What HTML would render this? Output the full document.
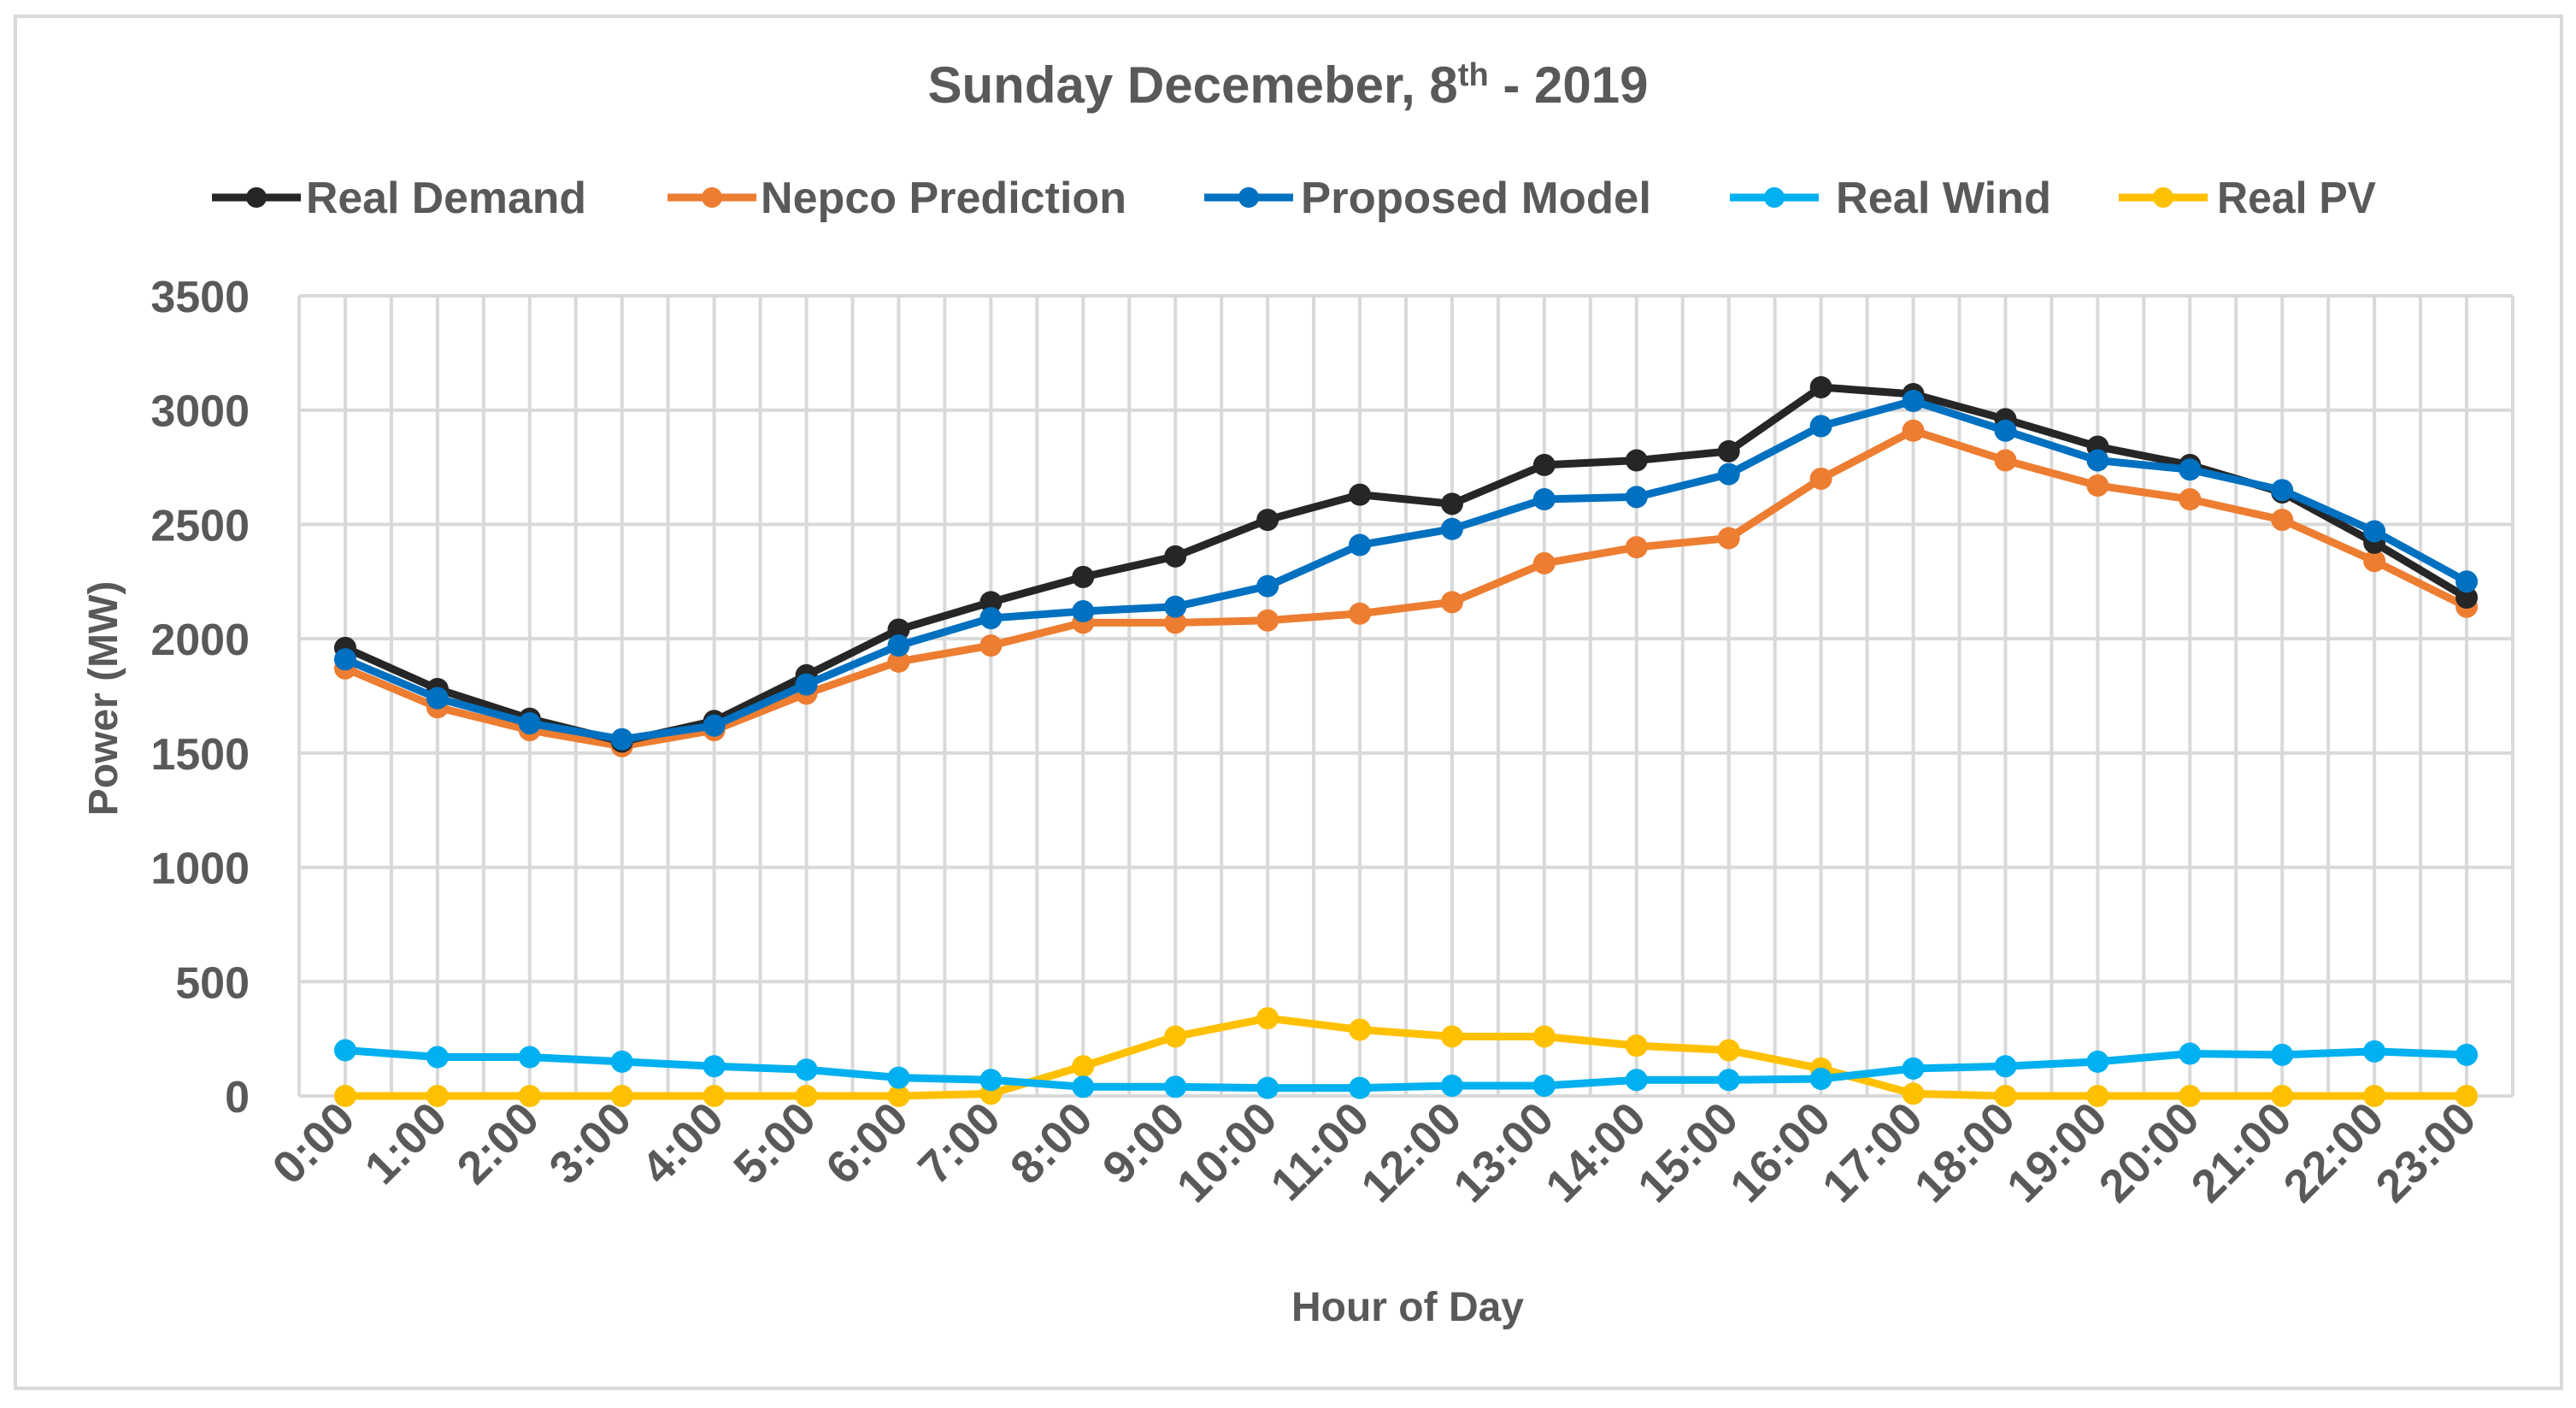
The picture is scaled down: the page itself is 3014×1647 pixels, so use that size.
<!DOCTYPE html>
<html><head><meta charset="utf-8"><style>
html,body{margin:0;padding:0;background:#fff;}
svg{display:block;}
text{font-family:"Liberation Sans",sans-serif;fill:#595959;font-weight:bold;}
</style></head><body>
<svg id="chart" width="3014" height="1647" viewBox="0 0 3014 1647" xmlns="http://www.w3.org/2000/svg">
<rect x="18" y="19" width="2979" height="1605" fill="#fff" stroke="#d9d9d9" stroke-width="4"/>
<text x="1507" y="120" text-anchor="middle" font-size="60">Sunday Decemeber, 8<tspan font-size="38" dy="-20">th</tspan><tspan dy="20"> - 2019</tspan></text>
<g id="grid"></g>
<g id="yticks"></g>
<g id="xticks"></g>
<g id="series"></g>
<g id="legend"></g>
<text x="0" y="0" transform="translate(137,817) rotate(-90)" text-anchor="middle" font-size="48">Power (MW)</text>
<text x="1647" y="1545" text-anchor="middle" font-size="48">Hour of Day</text>
</svg>
<script>
const categories = ["0:00","1:00","2:00","3:00","4:00","5:00","6:00","7:00","8:00","9:00","10:00","11:00","12:00","13:00","14:00","15:00","16:00","17:00","18:00","19:00","20:00","21:00","22:00","23:00"];
const realDemand = [1960,1780,1650,1550,1640,1840,2040,2160,2270,2360,2520,2630,2590,2760,2780,2820,3100,3070,2960,2840,2760,2640,2420,2180];
const nepcoPrediction = [1870,1700,1600,1530,1600,1760,1900,1970,2070,2070,2080,2110,2160,2330,2400,2440,2700,2910,2780,2670,2610,2520,2340,2140];
const proposedModel = [1910,1740,1630,1560,1620,1800,1970,2090,2120,2140,2230,2410,2480,2610,2620,2720,2930,3040,2910,2780,2740,2650,2470,2250];
const realWind = [200,170,170,150,130,115,80,70,40,40,35,35,45,45,70,70,75,120,130,150,185,180,195,180];
const realPV = [0,0,0,0,0,0,0,10,130,260,340,290,260,260,220,200,120,10,0,0,0,0,0,0];
const yTicks = [0,500,1000,1500,2000,2500,3000,3500];
const seriesNames = ["Real Demand","Nepco Prediction","Proposed Model","Real Wind","Real PV"];

const NS="http://www.w3.org/2000/svg";
const L=350,R=2940,T=346,B=1282,YMAX=3500;
const bw=(R-L)/categories.length;
function xs(i){return L+bw*(i+0.5);}
function ys(v){return B-(v/YMAX)*(B-T);}
function mk(tag,attrs,parent){const e=document.createElementNS(NS,tag);for(const k in attrs)e.setAttribute(k,attrs[k]);parent.appendChild(e);return e;}

const grid=document.getElementById('grid');
for(let i=0;i<=categories.length*2;i++){
  const x=L+bw*i/2;
  const ln=mk('line',{x1:x,x2:x,y1:T,y2:B,stroke:'#d9d9d9','stroke-width':4},grid);
  
  
}
const yt=document.getElementById('yticks');
yTicks.forEach(v=>{
  const ln=mk('line',{x1:L,x2:R,y1:ys(v),y2:ys(v),stroke:'#d9d9d9','stroke-width':4},grid);
  
  
  const t=mk('text',{x:292,y:ys(v)+19,'text-anchor':'end','font-size':52},yt);
  t.textContent=v;
  
  
});
const xt=document.getElementById('xticks');
categories.forEach((c,i)=>{
  const x=xs(i)+14,y=1312;
  const t=mk('text',{x:0,y:0,'text-anchor':'end','font-size':54,transform:`translate(${x},${y}) rotate(-45)`},xt);
  t.textContent=c;
  
  
});

const colors=["#262626","#ED7D31","#0070C0","#00B0F0","#FFC000"];
const data=[realDemand,nepcoPrediction,proposedModel,realWind,realPV];
const sg=document.getElementById('series');
[4,3,1,0,2].forEach(s=>{
  const g=mk('g',{},sg);
  
  
  const pts=data[s].map((v,i)=>xs(i)+','+ys(v)).join(' ');
  const pl=mk('polyline',{points:pts,fill:'none',stroke:colors[s],'stroke-width':9,'stroke-linejoin':'round'},g);
  
  
  data[s].forEach((v,i)=>{
    const c=mk('circle',{cx:xs(i),cy:ys(v),r:13,fill:colors[s]},g);
    
    
  });
});

const lg=document.getElementById('legend');
const lx=[248,781,1409,2024,2479];
const tx=[358,890,1522,2148,2594];
const tw=[328,428,410,252,186];
seriesNames.forEach((n,s)=>{
  const g=mk('g',{},lg);
  
  
  mk('line',{x1:lx[s],x2:lx[s]+104,y1:231,y2:231,stroke:colors[s],'stroke-width':9},g);
  mk('circle',{cx:lx[s]+52,cy:231,r:12,fill:colors[s]},g);
  const t=mk('text',{x:tx[s],y:249,'font-size':52,textLength:tw[s],lengthAdjust:'spacingAndGlyphs'},g);
  t.textContent=n;
  
  
});
</script>
</body></html>
